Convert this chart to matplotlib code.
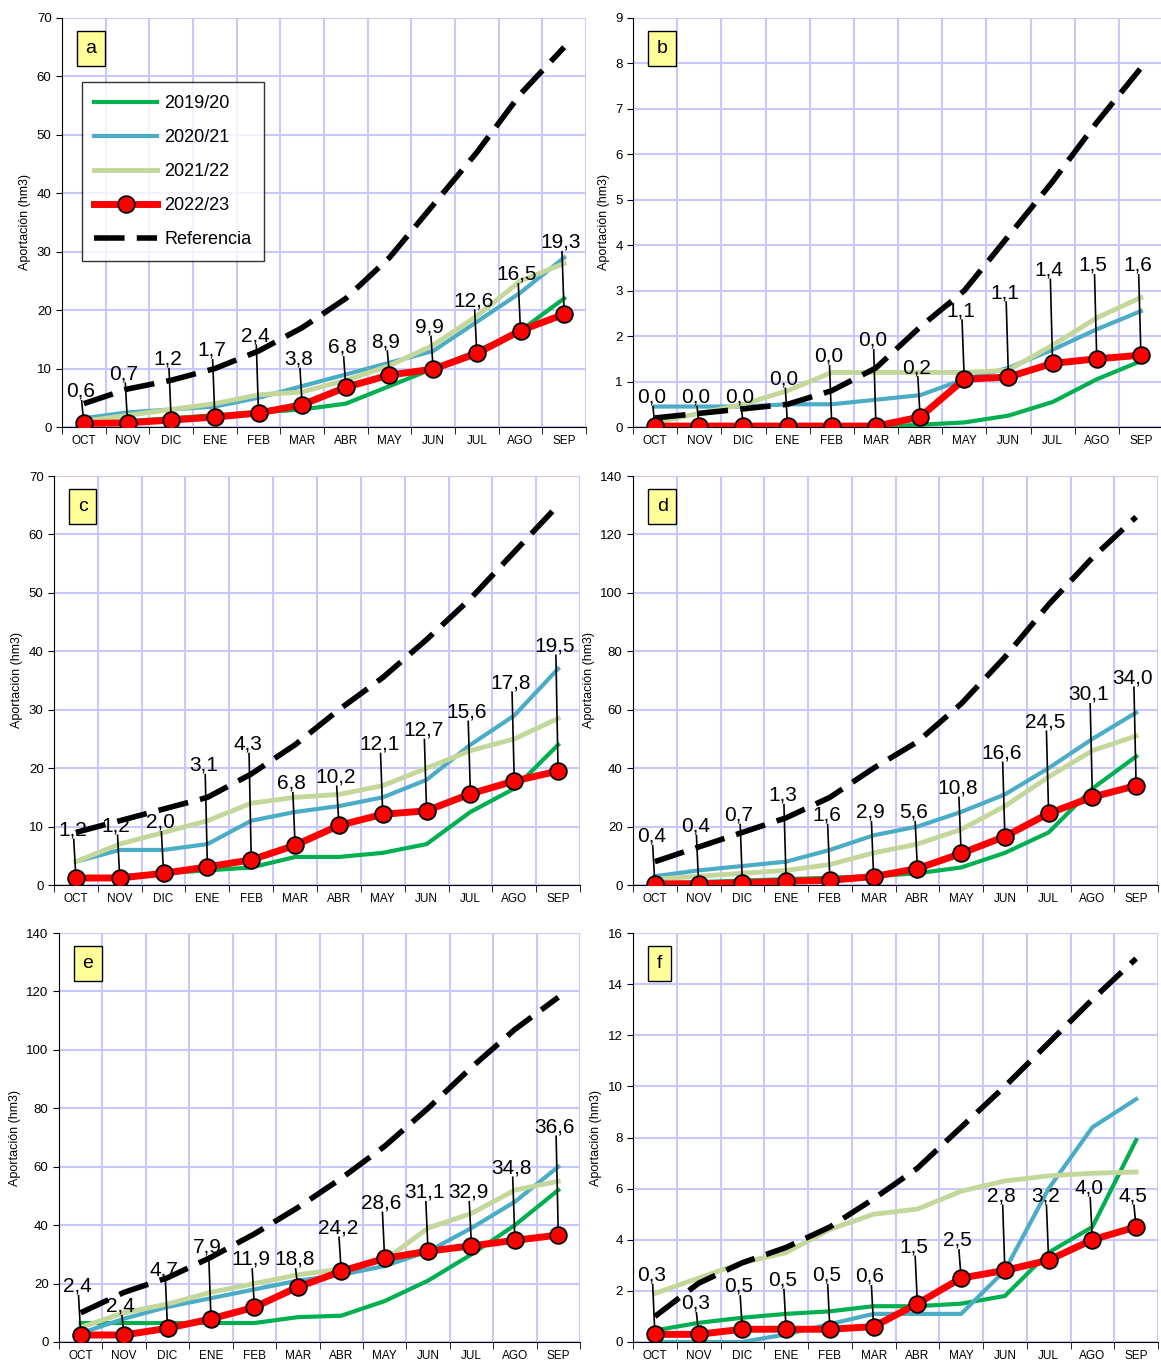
import numpy as np
import matplotlib.pyplot as plt

plt.rcParams['font.family'] = ['Liberation Sans', 'DejaVu Sans']

meses = ['OCT', 'NOV', 'DIC', 'ENE', 'FEB', 'MAR', 'ABR', 'MAY', 'JUN', 'JUL', 'AGO', 'SEP']
series = ['2019/20', '2020/21', '2021/22', '2022/23', 'Referencia']

# panel a
a_1920 = [0.5, 1, 1.5, 2, 2.5, 3, 4, 7, 10, 13, 16.5, 22]
a_2021 = [1.5, 2.5, 3, 3.5, 5, 7, 9, 11, 13, 18, 23, 29]
a_2122 = [1, 2, 3, 4, 5.5, 6, 8, 10.5, 14, 19, 25, 28]
a_2223 = [0.6, 0.7, 1.2, 1.7, 2.4, 3.8, 6.8, 8.9, 9.9, 12.6, 16.5, 19.3]
a_ref = [4, 6.5, 8, 10, 13, 17, 22, 29, 38, 47, 57, 65]
a_lab_y = [4.5, 7.5, 10, 11.5, 14, 10, 12, 13, 15.5, 20, 24.5, 30]

# panel b
b_1920 = [0, 0, 0, 0, 0, 0, 0.05, 0.1, 0.25, 0.55, 1.05, 1.45]
b_2021 = [0.45, 0.45, 0.45, 0.5, 0.5, 0.6, 0.7, 1.05, 1.3, 1.7, 2.15, 2.55]
b_2122 = [0.1, 0.3, 0.5, 0.8, 1.2, 1.2, 1.2, 1.2, 1.25, 1.8, 2.4, 2.85]
b_2223 = [0.02, 0.02, 0.02, 0.02, 0.02, 0.02, 0.22, 1.05, 1.1, 1.4, 1.5, 1.58]
b_ref = [0.2, 0.3, 0.4, 0.5, 0.8, 1.3, 2.2, 3.0, 4.2, 5.4, 6.7, 7.9]
b_txt = ['0,0', '0,0', '0,0', '0,0', '0,0', '0,0', '0,2', '1,1', '1,1', '1,4', '1,5', '1,6']
b_lab_y = [0.45, 0.45, 0.45, 0.85, 1.35, 1.7, 1.1, 2.35, 2.75, 3.25, 3.35, 3.35]

# panel c
c_1920 = [1, 1.5, 2, 2.5, 3, 4.8, 4.8, 5.5, 7, 12.5, 16.5, 24]
c_2021 = [4, 6, 6, 7, 11, 12.5, 13.5, 15, 18, 24, 29, 37]
c_2122 = [4, 7, 9, 11, 14, 15, 15.5, 17, 20, 23, 25, 28.5]
c_2223 = [1.2, 1.2, 2.0, 3.1, 4.3, 6.8, 10.2, 12.1, 12.7, 15.6, 17.8, 19.5]
c_ref = [9, 11, 13, 15, 19, 24, 30, 35.5, 42, 49, 57, 65]
c_lab_y = [7.8, 8.5, 9.1, 18.9, 22.5, 15.8, 16.9, 22.5, 24.9, 28, 33, 39.3]

# panel d
d_1920 = [0.5, 1, 1.5, 2, 2.5, 3, 4, 6, 11, 18, 33, 44]
d_2021 = [3, 5, 6.5, 8, 12, 17, 20, 25, 31, 40, 50, 59]
d_2122 = [2, 3, 4, 5, 7, 11, 14, 19, 27, 37, 46, 51]
d_2223 = [0.4, 0.4, 0.7, 1.3, 1.6, 2.9, 5.6, 10.8, 16.6, 24.5, 30.1, 34.0]
d_ref = [8, 13, 18, 23, 30, 40, 49, 62, 78, 96, 112, 126]
d_lab_y = [13.5, 17, 20.7, 27.5, 20.7, 21.7, 21.7, 30, 42, 52.6, 62, 67.7]

# panel e
e_1920 = [6.5, 6.5, 6.5, 6.5, 6.5, 8.5, 9, 14, 21, 30, 40, 52]
e_2021 = [3, 8, 12, 15, 18, 21, 23, 26, 31, 39, 48, 60]
e_2122 = [5, 10, 13, 17, 20, 23, 25, 28, 39, 44, 52, 55]
e_2223 = [2.4, 2.4, 4.7, 7.9, 11.9, 18.8, 24.2, 28.6, 31.1, 32.9, 34.8, 36.6]
e_ref = [10, 17, 22, 29, 37, 46, 56, 67, 80, 94, 107, 118]
e_lab_y = [15.9, 9, 21.4, 29.3, 25, 25, 35.8, 44.4, 48, 48, 56.4, 70.4]

# panel f
f_1920 = [0.45, 0.75, 0.95, 1.1, 1.2, 1.4, 1.4, 1.5, 1.8, 3.5, 4.5, 7.9]
f_2021 = [0, 0, 0, 0.3, 0.7, 1.1, 1.1, 1.1, 2.8, 6, 8.4, 9.5]
f_2122 = [1.9, 2.5, 3.1, 3.5, 4.4, 5, 5.2, 5.9, 6.3, 6.5, 6.6, 6.65]
f_2223 = [0.3, 0.3, 0.5, 0.5, 0.5, 0.6, 1.5, 2.5, 2.8, 3.2, 4.0, 4.5]
f_ref = [1, 2.3, 3.1, 3.7, 4.5, 5.6, 6.8, 8.4, 10, 11.7, 13.4, 15]
f_lab_y = [2.25, 1.15, 1.8, 2.05, 2.25, 2.2, 3.35, 3.6, 5.35, 5.35, 5.65, 5.35]

def fmt(v):
    return f'{v:.1f}'.replace('.', ',')

panels = [
    ('a', a_1920, a_2021, a_2122, a_2223, a_ref, None, a_lab_y, 70, 10),
    ('b', b_1920, b_2021, b_2122, b_2223, b_ref, b_txt, b_lab_y, 9, 1),
    ('c', c_1920, c_2021, c_2122, c_2223, c_ref, None, c_lab_y, 70, 10),
    ('d', d_1920, d_2021, d_2122, d_2223, d_ref, None, d_lab_y, 140, 20),
    ('e', e_1920, e_2021, e_2122, e_2223, e_ref, None, e_lab_y, 140, 20),
    ('f', f_1920, f_2021, f_2122, f_2223, f_ref, None, f_lab_y, 16, 2),
]

W, H = 1161, 1360
fig = plt.figure(figsize=(W / 100, H / 100), dpi=100)
# axes boxes in pixels: left, top, width
boxes = [(62, 18, 524), (633, 18, 530), (54, 476, 526), (633, 476, 525),
         (59, 933, 521), (633, 933, 525)]
x = np.arange(len(meses))

for i, (tag, s1, s2, s3, s4, ref, txt, laby, ymax, step) in enumerate(panels):
    l, t, w = boxes[i]
    ax = fig.add_axes([l / W, 1 - (t + 409) / H, w / W, 409 / H])
    ax.set_xlim(-0.5, 11.5)
    ax.set_ylim(0, ymax)
    ax.set_yticks(np.arange(0, ymax + step / 2, step))
    ax.set_xticks(x)
    ax.set_xticklabels(meses, fontsize=8.5)
    ax.set_xticks(np.arange(-0.5, 12, 1), minor=True)
    ax.tick_params(axis='x', which='major', length=0, pad=6)
    ax.tick_params(axis='x', which='minor', length=5, direction='out')
    ax.tick_params(axis='y', labelsize=9.5, length=4)
    ax.grid(True, which='minor', axis='x', color='#c8c8ff', lw=1.5)
    ax.grid(True, which='major', axis='y', color='#c8c8ff', lw=1.5)
    ax.set_axisbelow(True)
    for sp in ['top', 'right']:
        ax.spines[sp].set_visible(False)
    ax.set_ylabel('Aportación (hm3)', fontsize=9)

    ax.plot(x, s1, color='#00b050', lw=3, label=series[0])
    ax.plot(x, s2, color='#4bacc6', lw=3, label=series[1])
    ax.plot(x, s3, color='#c4d79b', lw=3.5, label=series[2])
    ax.plot(x, s4, color='#ff0000', lw=5, marker='o', ms=12, mfc='#ff0000',
            mec='black', mew=1.3, label=series[3], zorder=5)
    ax.plot(x, ref, color='black', lw=4, dashes=(5.5, 2.2), label=series[4], zorder=4)

    for k in range(len(meses)):
        tx = txt[k] if txt else fmt(s4[k])
        ax.plot([x[k], x[k] - 0.05], [s4[k], laby[k]], color='black', lw=1.2, zorder=4)
        ax.text(x[k] - 0.08, laby[k], tx, fontsize=15, ha='center', va='bottom', zorder=6)

    ax.text(0.045, 0.925, tag, transform=ax.transAxes, fontsize=14, ha='left', va='center',
            bbox=dict(boxstyle='square,pad=0.45', fc='#ffff99', ec='black', lw=1))

    if tag == 'a':
        leg = ax.legend(loc='upper left', bbox_to_anchor=(0.02, 0.865), fontsize=13,
                        frameon=True, fancybox=False, edgecolor='black', handlelength=3.5,
                        labelspacing=0.95, borderpad=0.7, handletextpad=0.4)
        leg.get_frame().set_linewidth(1)

fig.savefig('out.png', dpi=100)
